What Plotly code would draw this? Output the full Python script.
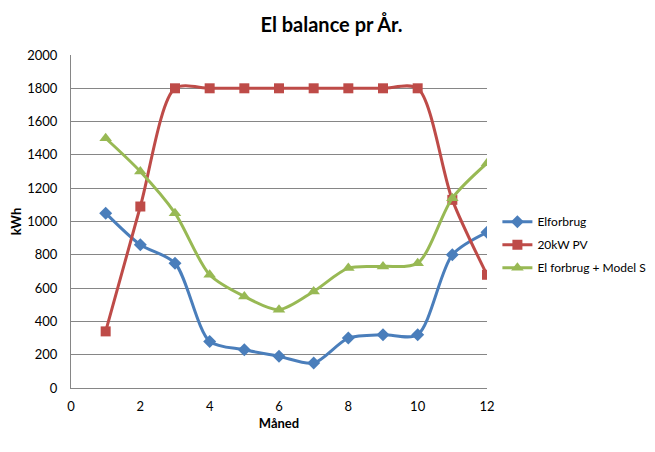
import plotly.graph_objects as go

maaned = [1, 2, 3, 4, 5, 6, 7, 8, 9, 10, 11, 12]
elforbrug = [1050, 860, 750, 280, 230, 190, 150, 300, 320, 320, 800, 935]
pv_20kw = [340, 1090, 1800, 1800, 1800, 1800, 1800, 1800, 1800, 1800, 1130, 680]
model_s = [1500, 1300, 1050, 680, 550, 470, 580, 720, 730, 750, 1140, 1350]

font = "Lato, 'Open Sans', sans-serif"

fig = go.Figure()
fig.add_trace(go.Scatter(x=maaned, y=elforbrug, name="Elforbrug", mode="lines+markers",
                         legendgroup="a",
                         line=dict(color="#4A7EBB", width=3, shape="spline", smoothing=0.8),
                         marker=dict(symbol="diamond", size=10, color="#4A7EBB")))
fig.add_trace(go.Scatter(x=maaned, y=pv_20kw, name="20kW PV", mode="lines+markers",
                         legendgroup="b",
                         line=dict(color="#BE4B48", width=3, shape="spline", smoothing=0.8),
                         marker=dict(symbol="square", size=10, color="#BE4B48")))
fig.add_trace(go.Scatter(x=maaned, y=model_s, name="El forbrug + Model S", mode="lines+markers",
                         legendgroup="c",
                         line=dict(color="#98B954", width=3, shape="spline", smoothing=0.8),
                         marker=dict(symbol="triangle-up", size=11, color="#98B954")))

# page body has an 8px margin, so the figure is a bit smaller than the window
fig.update_layout(
    width=647, height=444,
    margin=dict(l=63, r=168, t=47, b=64, autoexpand=False),
    plot_bgcolor="white", paper_bgcolor="white",
    font=dict(family=font, size=13, color="black"),
    title=dict(text="<b>El balance pr År.</b>", x=0.5, xanchor="center",
               y=0.962, yanchor="middle",
               font=dict(size=20, family=font)),
    showlegend=True,
    legend=dict(x=1.025, xanchor="left", y=0.43, yanchor="middle",
                font=dict(size=12, family=font), tracegroupgap=4,
                bgcolor="rgba(0,0,0,0)"),
    xaxis=dict(range=[0, 12], tickvals=[0, 2, 4, 6, 8, 10, 12], showgrid=False,
               showline=True, linecolor="#868686", linewidth=1, zeroline=False,
               ticks="", ticklabelstandoff=6,
               title=dict(text="<b>Måned</b>", font=dict(size=13), standoff=6),
               tickfont=dict(size=13)),
    yaxis=dict(range=[0, 2000], dtick=200, showgrid=True, gridcolor="#868686",
               gridwidth=1, showline=True, linecolor="#868686", linewidth=1,
               zeroline=False, ticks="", ticklabelstandoff=10,
               title=dict(text="<b>kWh</b>", font=dict(size=13), standoff=10),
               tickfont=dict(size=13)),
)

fig.write_html("out.html")
